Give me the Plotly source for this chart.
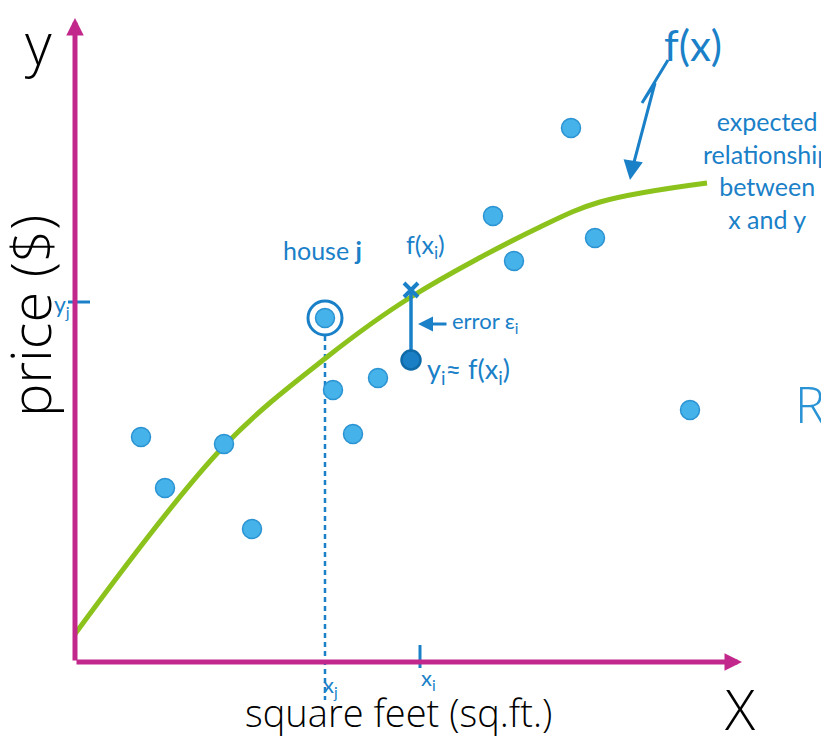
import plotly.graph_objects as go

# houses: square feet vs price (units measured from the axis origin)
sqft = [66, 90, 149, 177, 258, 278, 303, 418, 439, 496, 520, 615]
price = [225, 174, 218, 133, 272, 228, 284, 446, 401, 534, 424, 252]

# the highlighted houses
house_j = (250, 344)
house_i = (336, 302)
f_xi = 372

# expected relationship f(x)
curve_x = [0, 149, 252, 336, 465, 525, 632]
curve_y = [28, 216, 305, 365, 435, 460, 479]

axis_color = "#c2288c"
hand_blue = "#1a80c8"
dot_fill = "#45b2ea"
dot_edge = "#2b93d2"
hand_font = "Lato"
label_font = "Open Sans"

fig = go.Figure()

# dashed projection of house j down to the x axis
fig.add_trace(go.Scatter(
    x=[house_j[0], house_j[0]], y=[house_j[1] - 18, -38],
    mode="lines", line=dict(color=hand_blue, width=2.5, dash="5px,4px"),
    hoverinfo="skip", showlegend=False,
))

# f(x) curve
fig.add_trace(go.Scatter(
    x=curve_x, y=curve_y, mode="lines",
    line=dict(color="#8cc21c", width=5, shape="spline", smoothing=1.0),
    hoverinfo="skip", showlegend=False,
))

# error bar for house i
fig.add_trace(go.Scatter(
    x=[house_i[0], house_i[0]], y=[f_xi, house_i[1]],
    mode="lines", line=dict(color=hand_blue, width=3.5),
    hoverinfo="skip", showlegend=False,
))
fig.add_trace(go.Scatter(
    x=[house_i[0]], y=[f_xi], mode="markers",
    marker=dict(symbol="x-thin", size=14, line=dict(color=hand_blue, width=4)),
    hoverinfo="skip", showlegend=False,
))

# all houses
fig.add_trace(go.Scatter(
    x=sqft, y=price, mode="markers",
    marker=dict(size=19, color=dot_fill, line=dict(color=dot_edge, width=1.5)),
    showlegend=False,
))
fig.add_trace(go.Scatter(
    x=[house_j[0]], y=[house_j[1]], mode="markers",
    marker=dict(size=19, color=dot_fill, line=dict(color=dot_edge, width=1.5)),
    showlegend=False,
))
fig.add_trace(go.Scatter(
    x=[house_j[0]], y=[house_j[1]], mode="markers",
    marker=dict(size=34, color="rgba(0,0,0,0)", line=dict(color=hand_blue, width=3)),
    hoverinfo="skip", showlegend=False,
))
fig.add_trace(go.Scatter(
    x=[house_i[0]], y=[house_i[1]], mode="markers",
    marker=dict(size=19, color="#1b7fc6", line=dict(color="#0f6aa8", width=2.5)),
    showlegend=False,
))

# f(x) zigzag pointer
fig.add_trace(go.Scatter(
    x=[593, 567, 580, 558], y=[602, 559, 579, 496],
    mode="lines", line=dict(color=hand_blue, width=3),
    hoverinfo="skip", showlegend=False,
))

# axis arrows
fig.add_annotation(x=0, y=644, ax=0, ay=0, xref="x", yref="y", axref="x", ayref="y",
                   showarrow=True, arrowhead=2, arrowsize=0.7, arrowwidth=5,
                   arrowcolor=axis_color, text="")
fig.add_annotation(x=667, y=0, ax=0, ay=0, xref="x", yref="y", axref="x", ayref="y",
                   showarrow=True, arrowhead=2, arrowsize=0.7, arrowwidth=5,
                   arrowcolor=axis_color, text="")

# pointer arrows
fig.add_annotation(x=555, y=482, ax=558, ay=500, xref="x", yref="y", axref="x", ayref="y",
                   showarrow=True, arrowhead=2, arrowsize=1.3, arrowwidth=3,
                   arrowcolor=hand_blue, text="")
fig.add_annotation(x=343, y=338, ax=373, ay=338, xref="x", yref="y", axref="x", ayref="y",
                   showarrow=True, arrowhead=2, arrowsize=1, arrowwidth=3,
                   arrowcolor=hand_blue, text="")

# tick marks for y_j and x_i
fig.add_shape(type="line", x0=-7, x1=15, y0=360, y1=360, line=dict(color=hand_blue, width=3))
fig.add_shape(type="line", x0=345, x1=345, y0=17, y1=-6, line=dict(color=hand_blue, width=3))


def txt(x, y, s, size, color="black", family=label_font, angle=0, anchor="center", weight=400):
    fig.add_annotation(x=x, y=y, text=s, showarrow=False, textangle=angle,
                       xanchor=anchor,
                       font=dict(size=size, color=color, family=family, weight=weight))


txt(-37, 620, "y", 58, weight=300)
txt(665, -46, "X", 56, weight=300)
txt(-46, 346, "price ($)", 56, angle=-90, weight=300)
txt(323, -50, "square feet (sq.ft.)", 38, weight=300)
txt(718, 258, "R", 50, color="#2a93d5", anchor="left", weight=300)

txt(247, 412, "house <b>j</b>", 25, hand_blue, hand_font)
txt(350, 416, "f(x<sub>i</sub>)", 25, hand_blue, hand_font)
txt(375, 340, "error ε<sub>i</sub>", 22, hand_blue, hand_font, anchor="left")
txt(350, 292, "y<sub>i</sub>≈ f(x<sub>i</sub>)", 27, hand_blue, hand_font, anchor="left")
txt(618, 617, "f(x)", 42, hand_blue, hand_font)
txt(692, 492, "expected<br>relationship<br>between<br>x and y", 25, hand_blue, hand_font)
txt(-13, 357, "y<sub>j</sub>", 23, hand_blue, hand_font)
txt(255, -24, "x<sub>j</sub>", 22, hand_blue, hand_font)
txt(353, -17, "x<sub>i</sub>", 22, hand_blue, hand_font)

fig.update_xaxes(range=[-75, 746], visible=False)
fig.update_yaxes(range=[-76, 662], visible=False)
fig.update_layout(
    width=821, height=738,
    margin=dict(l=0, r=0, t=0, b=0),
    plot_bgcolor="white", paper_bgcolor="white",
)

fig.write_html("out.html", config={"displayModeBar": False},
               post_script="document.body.style.margin='0';")
